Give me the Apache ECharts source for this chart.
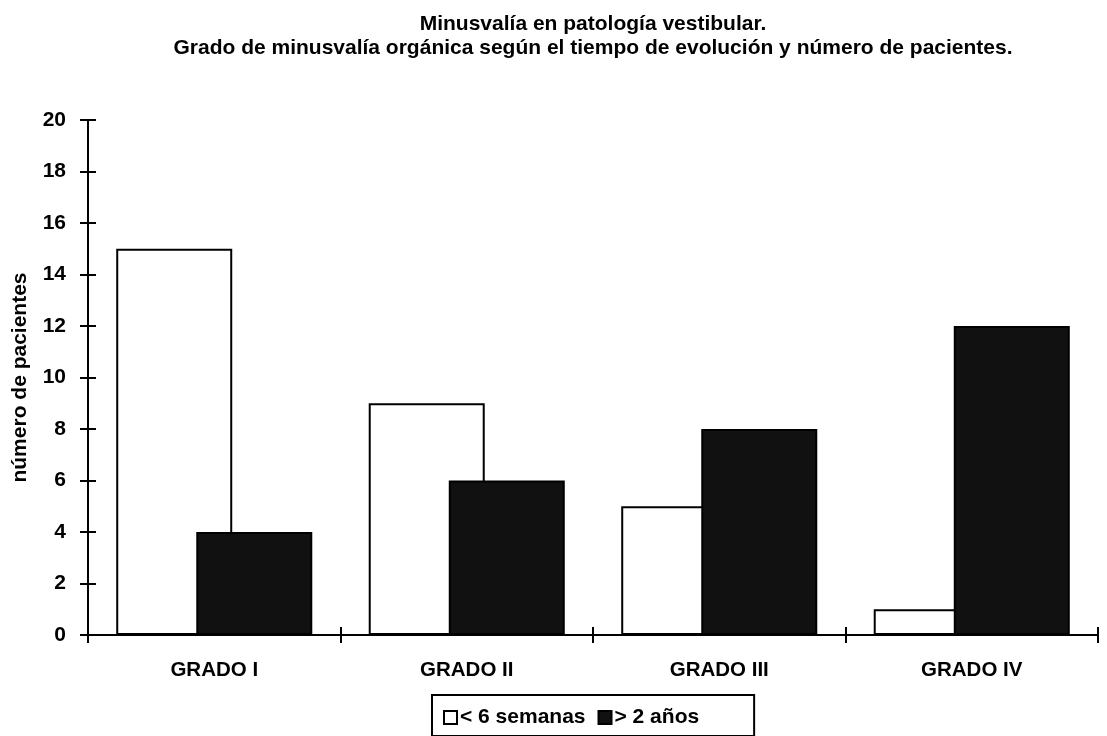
<!DOCTYPE html>
<html>
<head>
<meta charset="utf-8">
<script src="https://cdn.jsdelivr.net/npm/echarts@6/dist/echarts.min.js"></script>
<style>
  html, body { margin: 0; padding: 0; background: #fff; }
  #chart { width: 1107px; height: 736px; }
</style>
</head>
<body>
<div id="chart"></div>
<script>
// Grados de minusvalía y número de pacientes por tiempo de evolución
const categories = ['GRADO I', 'GRADO II', 'GRADO III', 'GRADO IV'];
const menos6Semanas = [15, 9, 5, 1];
const mas2Anos = [4, 6, 8, 12];
const seriesNames = ['< 6 semanas', '> 2 años'];
const yTicks = { min: 0, max: 20, interval: 2 };
const titleLines = [
  'Minusvalía en patología vestibular.',
  'Grado de minusvalía orgánica según el tiempo de evolución y número de pacientes.'
];
const yAxisName = 'número de pacientes';

const FONT = '"Liberation Sans", Arial, sans-serif';
const GRID = { left: 88, right: 9, top: 120, bottom: 101 };
const centerX = GRID.left + (1107 - GRID.left - GRID.right) / 2;

const chart = echarts.init(document.getElementById('chart'), null, { renderer: 'canvas' });

const tickStyle = { color: '#000', width: 2 };

chart.setOption({
  animation: false,
  backgroundColor: '#fff',
  textStyle: { fontFamily: FONT },
  graphic: titleLines.map((t, i) => ({
    type: 'text',
    x: centerX,
    y: 24 + i * 24,
    style: {
      text: t,
      font: 'bold 21px ' + FONT,
      fill: '#000',
      textAlign: 'center',
      textVerticalAlign: 'middle'
    }
  })),
  legend: {
    left: 432,
    top: 695,
    padding: [12, 55, 8, 11],
    itemGap: 12,
    itemWidth: 13,
    itemHeight: 13,
    icon: 'rect',
    borderColor: '#000',
    borderWidth: 2,
    textStyle: { fontFamily: FONT, fontWeight: 'bold', fontSize: 21, color: '#000', padding: [0, 0, 0, -2] },
    data: seriesNames
  },
  grid: Object.assign({ outerBoundsMode: 'none' }, GRID),
  xAxis: [
    {
      type: 'category',
      data: categories,
      axisLine: { lineStyle: { color: '#000', width: 2 } },
      axisTick: { show: true, length: 8, lineStyle: tickStyle },
      axisLabel: { color: '#000', fontFamily: FONT, fontWeight: 'bold', fontSize: 20.5, margin: 25 }
    },
    {
      type: 'category',
      data: categories,
      position: 'bottom',
      axisLine: { show: false },
      axisTick: { show: true, inside: true, length: 8, lineStyle: tickStyle },
      axisLabel: { show: false }
    }
  ],
  yAxis: [
    {
      type: 'value',
      min: yTicks.min,
      max: yTicks.max,
      interval: yTicks.interval,
      name: yAxisName,
      nameLocation: 'middle',
      nameRotate: 90,
      nameGap: 57,
      nameTextStyle: { color: '#000', fontFamily: FONT, fontWeight: 'bold', fontSize: 21 },
      axisLine: { show: true, lineStyle: { color: '#000', width: 2 } },
      axisTick: { show: true, length: 8, lineStyle: tickStyle },
      axisLabel: { color: '#000', fontFamily: FONT, fontWeight: 'bold', fontSize: 21, margin: 22 },
      splitLine: { show: false }
    },
    {
      type: 'value',
      min: yTicks.min,
      max: yTicks.max,
      interval: yTicks.interval,
      position: 'left',
      axisLine: { show: false },
      axisTick: { show: true, inside: true, length: 8, lineStyle: tickStyle },
      axisLabel: { show: false },
      splitLine: { show: false }
    }
  ],
  series: [
    {
      name: seriesNames[0],
      type: 'bar',
      data: menos6Semanas,
      barWidth: 116,
      barGap: '-31%',
      itemStyle: { color: '#fff', borderColor: '#000', borderWidth: 2 }
    },
    {
      name: seriesNames[1],
      type: 'bar',
      data: mas2Anos,
      barWidth: 116,
      barGap: '-31%',
      itemStyle: { color: '#111', borderColor: '#000', borderWidth: 2 }
    }
  ]
});
</script>
</body>
</html>
